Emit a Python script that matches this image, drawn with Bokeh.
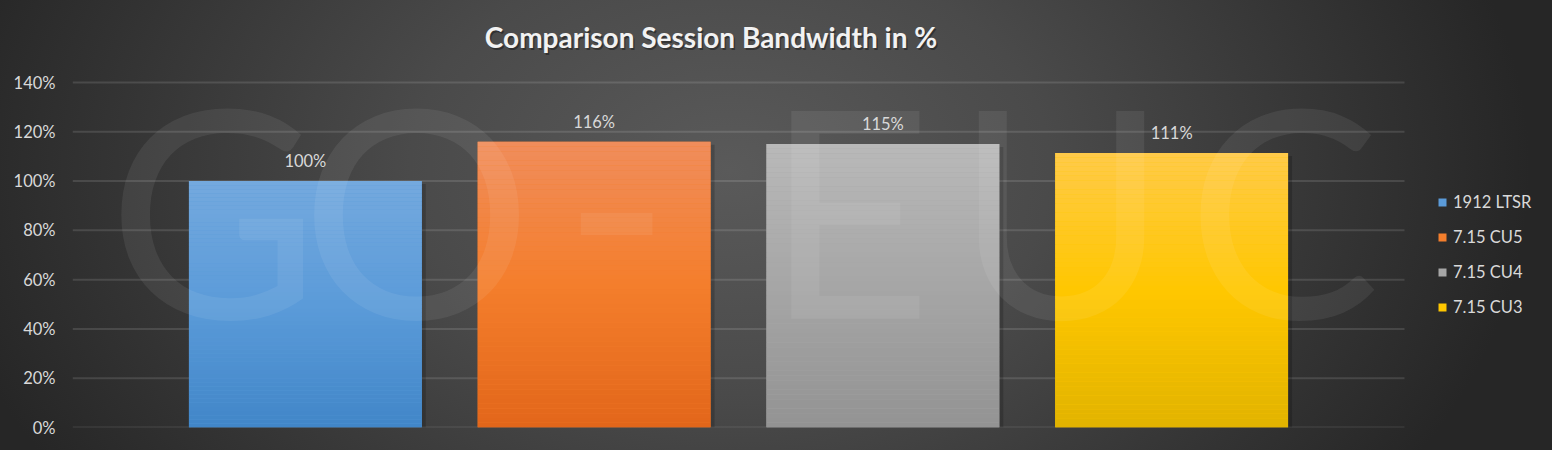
from bokeh.plotting import figure
from bokeh.models import (Range1d, FixedTicker, PrintfTickFormatter, Legend, LegendItem,
                          ColumnDataSource, GlobalInlineStyleSheet)
from bokeh.core.properties import value
from bokeh.embed import file_html
from bokeh.resources import INLINE

# ---- data ----
series = ["1912 LTSR", "7.15 CU5", "7.15 CU4", "7.15 CU3"]
values = [100, 116, 115, 111.4]
labels = [f"{round(v)}%" for v in values]
y_ticks = [0, 20, 40, 60, 80, 100, 120, 140]
title_text = "Comparison Session Bandwidth in %"
watermark = ["G", "O", "-", "E", "U", "C"]

# ---- style ----
grad = {  # (top, middle, bottom) colours per series
    "1912 LTSR": ("#74a9de", "#5b9bd9", "#4186c8"),
    "7.15 CU5": ("#f08d5c", "#f47e2c", "#e2661a"),
    "7.15 CU4": ("#b9b9b9", "#a6a6a6", "#939393"),
    "7.15 CU3": ("#ffca4a", "#ffc700", "#e1b300"),
}
wm_x = [0.1059, 0.2583, 0.4084, 0.5826, 0.7425, 0.9092]
FONT = "Lato"
TXT = "#d9d9d9"
W, H = 1552, 450
FL, FR, FT, FB = 72, 1404, 82, 427        # plot-area box (px)
GAP_WIDTH = 1.0                           # Excel-style gap width (fraction of bar width)
OVERLAP = -0.24                           # Excel-style series overlap
n = len(series)
bar_w = 1.0 / (n + (n - 1) * (-OVERLAP) + GAP_WIDTH)   # in category units
step = bar_w * (1 - OVERLAP)
first = GAP_WIDTH * bar_w / 2 + bar_w / 2
px_per_unit = FR - FL
px_per_pct = (FB - FT) / 140
Y_MAX = y_ticks[-1]


def hex2rgb(h):
    h = h.lstrip("#")
    return [int(h[i:i + 2], 16) for i in (0, 2, 4)]


def mix(c1, c2, t):
    a, b = hex2rgb(c1), hex2rgb(c2)
    return "#%02x%02x%02x" % tuple(int(round(a[i] + (b[i] - a[i]) * t)) for i in range(3))


def colour_at(stops, f):  # f: 0 bottom .. 1 top
    top, mid, bot = stops
    if f < 0.5:
        return mix(bot, mid, f / 0.5)
    return mix(mid, top, (f - 0.5) / 0.5)


# frame extends to the right and top edges so legend and title can sit inside it
x_end = (W - FL) / px_per_unit
y_end = Y_MAX + FT / px_per_pct
p = figure(width=W, height=H, output_backend="svg", toolbar_location=None,
           x_range=Range1d(0, x_end), y_range=Range1d(0, y_end),
           min_border_left=FL, min_border_right=0, min_border_top=0, min_border_bottom=H - FB)
p.background_fill_color = None
p.border_fill_color = None
p.outline_line_color = None
p.styles = {"background": "radial-gradient(ellipse 800px 560px at 730px 170px, #5a5a5a 0%, #4a4a4a 40%, #262626 100%)"}
p.stylesheets = [GlobalInlineStyleSheet(css="html, body { background: #262626; }")]

p.xaxis.visible = False
p.xgrid.visible = False
p.ygrid.visible = False
yax = p.yaxis[0]
yax.ticker = FixedTicker(ticks=y_ticks)
yax.formatter = PrintfTickFormatter(format="%d%%")
yax.axis_line_color = None
yax.major_tick_line_color = None
yax.minor_tick_line_color = None
yax.major_tick_out = 0
yax.major_label_standoff = 17
yax.major_label_text_font = FONT
yax.major_label_text_font_size = "16.5px"
yax.major_label_text_color = TXT

# horizontal gridlines spanning the category area
p.segment(x0=[0] * len(y_ticks), x1=[1] * len(y_ticks), y0=y_ticks, y1=y_ticks,
          line_color="#ffffff", line_alpha=0.12, line_width=2)

N = 60
items = []
centers = []
sh_dx = 3 / px_per_unit
sh_dy = 3 / px_per_pct
for i, (name, v) in enumerate(zip(series, values)):
    cx = first + i * step
    centers.append(cx)
    # soft drop shadow
    p.vbar(x=[cx + sh_dx], top=[v - sh_dy], bottom=[-sh_dy], width=bar_w + 2 / px_per_unit,
           fill_color="#000000", fill_alpha=0.18, line_color=None)
    base = p.vbar(x=[cx], top=[v], width=bar_w, fill_color=grad[name][1], line_color=None)
    bots = [v * k / N for k in range(N)]
    tops = [v * (k + 1) / N for k in range(N)]
    cols = [colour_at(grad[name], (k + 0.5) / N) for k in range(N)]
    src = ColumnDataSource(dict(x=[cx] * N, b=bots, t=tops, c=cols))
    p.vbar(x="x", bottom="b", top="t", width=bar_w, source=src, fill_color="c", line_color=None)
    items.append(LegendItem(label=name, renderers=[base]))

# watermark
p.text(x=wm_x, y=[89.6] * len(wm_x), text=watermark, text_align="center",
       text_baseline="alphabetic", text_font=value(FONT), text_font_size="290px",
       text_color="#ffffff", text_alpha=0.07)

# value labels
p.text(x=centers, y=values, text=labels, text_align="center", text_baseline="alphabetic",
       y_offset=-20, text_font=value(FONT), text_font_size="16.5px", text_color=TXT)

# chart title (drawn in the plot's top band)
title_x = (710.5 - FL) / px_per_unit
title_y = (FB - 36.7) / px_per_pct
p.text(x=[title_x], y=[title_y], text=[title_text], text_align="center", text_baseline="alphabetic",
       x_offset=1.5, y_offset=1.5, text_font=value(FONT), text_font_style="bold",
       text_font_size="28px", text_color="#000000", text_alpha=0.35)
p.text(x=[title_x], y=[title_y], text=[title_text], text_align="center", text_baseline="alphabetic",
       text_font=value(FONT), text_font_style="bold", text_font_size="28px", text_color="#f2f2f2")

legend = Legend(items=items, location=(1437 - FL, FB - 317), orientation="vertical",
                background_fill_alpha=0, border_line_color=None,
                padding=0, margin=0, spacing=15, label_height=20,
                glyph_width=10, glyph_height=10, label_standoff=6,
                label_text_font=FONT, label_text_font_size="16.5px", label_text_color=TXT)
p.add_layout(legend)

open("out.html", "w").write(file_html(p, INLINE))
